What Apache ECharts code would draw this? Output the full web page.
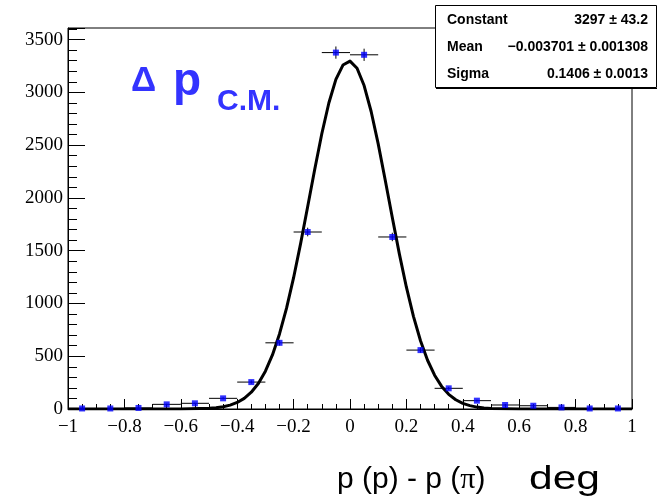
<!DOCTYPE html>
<html>
<head>
<meta charset="utf-8">
<script src="https://cdn.jsdelivr.net/npm/echarts@6/dist/echarts.min.js"></script>
<style>
  html, body { margin: 0; padding: 0; background: #ffffff; }
  #chart { width: 658px; height: 498px; }
</style>
</head>
<body>
<div id="chart"></div>
<script>
// histogram bins (width 0.1)
const binCenters = [-0.95, -0.85, -0.75, -0.65, -0.55, -0.45, -0.35, -0.25, -0.15, -0.05,
                    0.05, 0.15, 0.25, 0.35, 0.45, 0.55, 0.65, 0.75, 0.85, 0.95];
const counts = [5, 5, 10, 44, 54, 101, 255, 627, 1677, 3377,
                3356, 1630, 558, 196, 79, 38, 31, 15, 5, 5];
const countErrors = [2, 2, 3, 7, 7, 10, 16, 25, 41, 58,
                     58, 40, 24, 14, 9, 6, 6, 4, 2, 2];
const binHalfWidth = 0.05;

// fitted gaussian, sampled along the drawn curve
const fitX = [-1, -0.8, -0.6, -0.5, -0.475, -0.45, -0.425, -0.4, -0.375, -0.35, -0.325, -0.3,
              -0.275, -0.25, -0.225, -0.2, -0.175, -0.15, -0.125, -0.1, -0.075, -0.05, -0.025, 0,
              0.025, 0.05, 0.075, 0.1, 0.125, 0.15, 0.175, 0.2, 0.225, 0.25, 0.275, 0.3,
              0.325, 0.35, 0.375, 0.4, 0.425, 0.45, 0.475, 0.5, 0.6, 0.8, 1];
const fitY = [0, 0, 1, 7, 12, 21, 37, 62, 101, 159, 242, 358,
              512, 711, 955, 1244, 1569, 1918, 2272, 2608, 2899, 3123, 3259, 3296,
              3229, 3065, 2819, 2512, 2168, 1814, 1470, 1154, 878, 647, 462, 320,
              214, 139, 88, 53, 32, 18, 10, 5, 1, 0, 0];

const statNames = ["Constant", "Mean", "Sigma"];
const statValues = ["3297 \u00b1 43.2", "\u22120.003701 \u00b1 0.001308", "0.1406 \u00b1 0.0013"];

let chart = echarts.init(document.getElementById("chart"));

let points = binCenters.map((x, i) => [x, counts[i]]);
let errData = binCenters.map((x, i) => [x, counts[i], countErrors[i]]);
let fitData = fitX.map((x, i) => [x, fitY[i]]);

let statFont = "bold 14px 'Liberation Sans', Arial";
let statGraphics = [
  {
    type: "rect",
    shape: { x: 435.5, y: 5.5, width: 221, height: 82 },
    style: { fill: "#ffffff", stroke: "#000000", lineWidth: 1 },
    z: 100,
  },
  {
    type: "line",
    shape: { x1: 436, y1: 88.5, x2: 657, y2: 88.5 },
    style: { stroke: "#000000", lineWidth: 1 },
    z: 100,
  },
];
for (let i = 0; i < statNames.length; i++) {
  statGraphics.push({
    type: "text",
    x: 447,
    y: 20 + i * 27,
    style: { text: statNames[i], font: statFont, fill: "#000000", verticalAlign: "middle" },
    z: 101,
  });
  statGraphics.push({
    type: "text",
    x: 648,
    y: 20 + i * 27,
    style: { text: statValues[i], font: statFont, fill: "#000000", align: "right", verticalAlign: "middle" },
    z: 101,
  });
}

let titleColor = "#3333ff";
let titleGraphics = [
  {
    type: "text", x: 131, y: 81,
    style: { text: "\u0394", font: "bold 35px 'Liberation Sans', Arial", fill: titleColor, verticalAlign: "middle" },
  },
  {
    type: "text", x: 173, y: 82,
    style: { text: "p", font: "bold 46px 'Liberation Sans', Arial", fill: titleColor, verticalAlign: "middle" },
  },
  {
    type: "text", x: 217, y: 102,
    style: { text: "C.M.", font: "bold 30px 'Liberation Sans', Arial", fill: titleColor, verticalAlign: "middle" },
  },
];

let axisTitle = [
  {
    type: "text",
    x: 337,
    y: 480,
    style: {
      text: "{a|p (p) - p (}{b|\u03c0}{a|)}",
      verticalAlign: "middle",
      rich: {
        a: { font: "30px 'Liberation Sans', Arial", fill: "#000000" },
        b: { font: "30px 'Liberation Serif', serif", fill: "#000000" },
      },
    },
  },
  {
    type: "text",
    x: 529,
    y: 480,
    scaleX: 1.25,
    style: { text: "deg", font: "34px 'Liberation Sans', Arial", fill: "#000000", verticalAlign: "middle" },
  },
];

let option = {
  animation: false,
  backgroundColor: "#ffffff",
  grid: {
    left: 68,
    right: 26,
    top: 28,
    bottom: 89,
    show: true,
    borderColor: "#000000",
    borderWidth: 1,
  },
  xAxis: {
    type: "value",
    min: -1,
    max: 1,
    interval: 0.2,
    axisLine: { onZero: false, lineStyle: { color: "#000000", width: 1 } },
    axisTick: { inside: true, length: 10, lineStyle: { color: "#000000" } },
    minorTick: { show: true, splitNumber: 4, length: 5, lineStyle: { color: "#000000" } },
    splitLine: { show: false },
    axisLabel: {
      margin: 9,
      color: "#000000",
      fontFamily: "'Liberation Serif', 'Times New Roman', serif",
      fontSize: 19,
      formatter: function (v) {
        let r = Math.round(v * 10) / 10;
        return (r < 0 ? "\u2212" : "") + Math.abs(r);
      },
    },
  },
  yAxis: {
    type: "value",
    min: 0,
    max: 3610,
    interval: 500,
    axisLine: { show: true, onZero: false, lineStyle: { color: "#000000", width: 1 } },
    axisTick: { inside: true, length: 17, lineStyle: { color: "#000000" } },
    minorTick: { show: true, splitNumber: 5, length: 9, lineStyle: { color: "#000000" } },
    splitLine: { show: false },
    axisLabel: {
      margin: 5,
      color: "#000000",
      fontFamily: "'Liberation Serif', 'Times New Roman', serif",
      fontSize: 19,
      formatter: function (v) {
        return v % 500 === 0 ? String(v) : "";
      },
    },
  },
  series: [
    {
      type: "line",
      name: "fit",
      data: fitData,
      showSymbol: false,
      smooth: false,
      lineStyle: { color: "#000000", width: 3, join: "round" },
      z: 3,
    },
    {
      type: "custom",
      name: "errors",
      data: errData,
      renderItem: function (params, api) {
        let x = api.value(0);
        let y = api.value(1);
        let e = api.value(2);
        let left = api.coord([x - binHalfWidth, y]);
        let right = api.coord([x + binHalfWidth, y]);
        let lo = api.coord([x, y - e]);
        let hi = api.coord([x, y + e]);
        return {
          type: "group",
          children: [
            { type: "line", shape: { x1: left[0], y1: left[1], x2: right[0], y2: right[1] }, style: { stroke: "#000000", lineWidth: 1 } },
            { type: "line", shape: { x1: lo[0], y1: lo[1], x2: hi[0], y2: hi[1] }, style: { stroke: "#000000", lineWidth: 1 } },
          ],
        };
      },
      z: 4,
    },
    {
      type: "scatter",
      name: "data",
      data: points,
      symbol: "rect",
      symbolSize: 6,
      itemStyle: { color: "#0000ff" },
      z: 5,
    },
  ],
  graphic: titleGraphics.concat(axisTitle).concat(statGraphics),
};

chart.setOption(option, true);
</script>
</body>
</html>
